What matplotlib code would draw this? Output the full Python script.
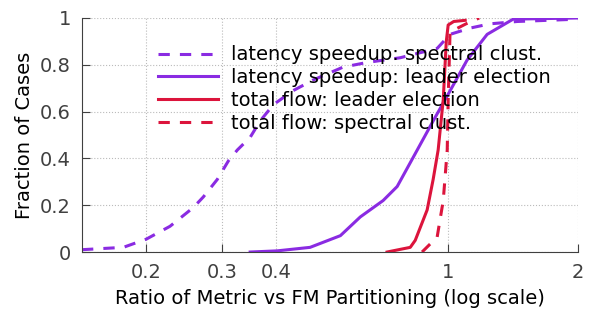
import matplotlib
matplotlib.use('Agg')
import matplotlib.pyplot as plt

# CDF data
lat_spec_x = [0.142, 0.177, 0.2, 0.227, 0.257, 0.271, 0.292, 0.310, 0.325, 0.348, 0.367,
              0.394, 0.438, 0.487, 0.571, 0.649, 0.774, 0.943, 1.01, 1.125, 1.25, 1.445, 2.0]
lat_spec_y = [0.01, 0.02, 0.055, 0.11, 0.19, 0.235, 0.31, 0.39, 0.436, 0.49, 0.56,
              0.63, 0.69, 0.735, 0.79, 0.81, 0.83, 0.87, 0.93, 0.957, 0.975, 0.985, 0.995]

lat_lead_x = [0.348, 0.402, 0.479, 0.563, 0.626, 0.707, 0.762, 0.848, 0.923, 1.011,
              1.106, 1.231, 1.414, 2.0]
lat_lead_y = [0.0, 0.005, 0.02, 0.07, 0.15, 0.22, 0.28, 0.436, 0.56, 0.69,
              0.82, 0.93, 0.995, 1.0]

flow_lead_x = [0.722, 0.817, 0.839, 0.894, 0.923, 0.948, 0.974, 0.99, 1.0, 1.03, 1.095]
flow_lead_y = [0.0, 0.02, 0.05, 0.18, 0.31, 0.436, 0.65, 0.9, 0.97, 0.985, 0.99]

flow_spec_x = [0.87, 0.943, 0.974, 0.995, 1.0, 1.01, 1.1, 1.18]
flow_spec_y = [0.0, 0.064, 0.22, 0.436, 0.65, 0.94, 0.975, 1.0]

purple = '#8a2be2'
red = '#dc143c'
dash = (0, (3.7, 3.3))

fig, ax = plt.subplots(figsize=(5.9, 3.1), dpi=100)
fig.subplots_adjust(left=0.139, right=0.98, bottom=0.187, top=0.942)

ax.plot(lat_spec_x, lat_spec_y, color=purple, lw=2.2, linestyle=dash,
        label='latency speedup: spectral clust.')
ax.plot(lat_lead_x, lat_lead_y, color=purple, lw=2.2,
        label='latency speedup: leader election')
ax.plot(flow_lead_x, flow_lead_y, color=red, lw=2.2,
        label='total flow: leader election')
ax.plot(flow_spec_x, flow_spec_y, color=red, lw=2.2, linestyle=dash,
        label='total flow: spectral clust.')

ax.set_xscale('log')
ax.set_xlim(0.142, 2)
ax.set_ylim(0, 1)
ax.set_xticks([0.2, 0.3, 0.4, 1, 2])
ax.set_xticklabels(['0.2', '0.3', '0.4', '1', '2'])
ax.minorticks_off()
ax.set_yticks([0, 0.2, 0.4, 0.6, 0.8, 1])
ax.set_yticklabels(['0', '0.2', '0.4', '0.6', '0.8', '1'])

ax.grid(True, linestyle=':', color='#bbbbbb', lw=0.8)
ax.spines['top'].set_visible(False)
ax.spines['right'].set_visible(False)
for s in ['left', 'bottom']:
    ax.spines[s].set_color('#404040')
ax.tick_params(direction='in', length=6, color='#404040', labelcolor='#404040',
               labelsize=14, pad=8)
# no tick mark at 0.4 in the original
ax.xaxis.get_major_ticks()[2].tick1line.set_visible(False)

ax.set_xlabel('Ratio of Metric vs FM Partitioning (log scale)', fontsize=14, labelpad=5)
ax.set_ylabel('Fraction of Cases', fontsize=14, labelpad=4)

ax.legend(loc='upper left', bbox_to_anchor=(0.153, 0.883), frameon=False, borderpad=0,
          borderaxespad=0, handlelength=3.1, handletextpad=0.65, labelspacing=0.2,
          fontsize=14)

fig.savefig('out.png', dpi=100)
